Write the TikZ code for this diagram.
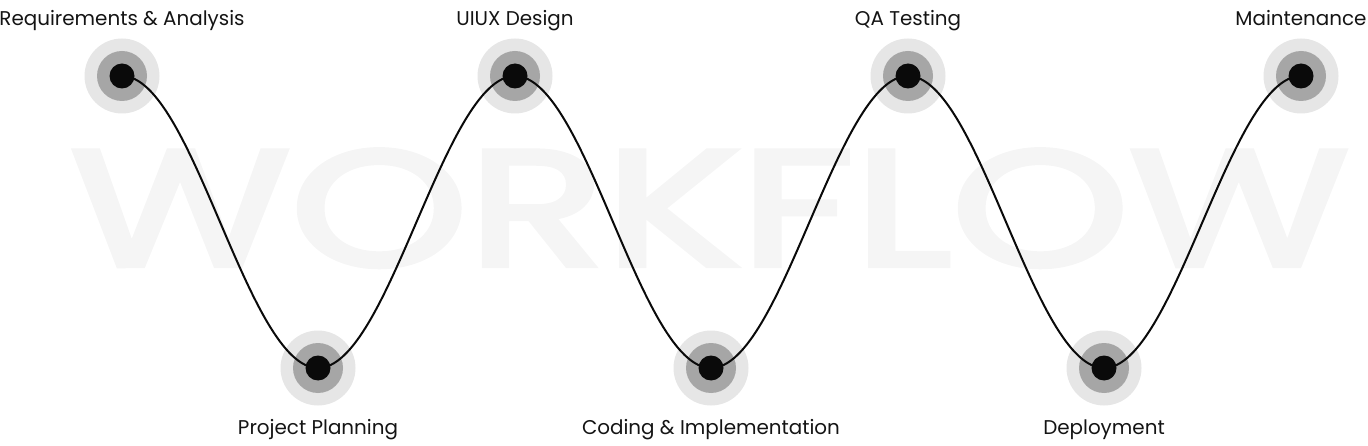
\documentclass[tikz,border=0pt]{standalone}
\usepackage{fontspec}
\setmainfont{Poppins}
\newfontfamily\wmfont{Poppins}[FakeBold=3]
\definecolor{wmgray}{HTML}{F5F5F5}
\definecolor{ringout}{HTML}{E6E6E6}
\definecolor{ringmid}{HTML}{A6A6A6}
\definecolor{dotblack}{HTML}{0A0A0A}
\definecolor{lbltext}{HTML}{141414}
\pgfdeclarelayer{bg}
\pgfsetlayers{bg,main}
\tikzset{
  dotnode/.style={circle, fill=dotblack, inner sep=0, minimum size=25pt},
  outerring/.style={circle, fill=ringout, inner sep=0, minimum size=75pt},
  midring/.style={circle, fill=ringmid, inner sep=0, minimum size=50pt},
  lbl/.style={anchor=base, inner sep=0, text=lbltext, font=\fontsize{19.9pt}{23pt}\selectfont},
  wave/.style={draw=dotblack, line width=2pt},
}
\begin{document}
\begin{tikzpicture}[x=1pt,y=-1pt]
\useasboundingbox (0,0) rectangle (1368,446);
% step dots
\node[dotnode] (n1) at (122,76) {};
\node[dotnode] (n2) at (318,368) {};
\node[dotnode] (n3) at (515,76) {};
\node[dotnode] (n4) at (711,368) {};
\node[dotnode] (n5) at (908,76) {};
\node[dotnode] (n6) at (1104,368) {};
\node[dotnode] (n7) at (1301,76) {};
\begin{pgfonlayer}{bg}
\node[inner sep=0, anchor=south west, text=wmgray] (wm) at (70,267) {\resizebox{1278pt}{116pt}{\wmfont WORKFLOW}};
\foreach \i in {1,...,7}{
  \node[outerring] (o\i) at (n\i) {};
  \node[midring] (m\i) at (n\i) {};
}
\foreach \a/\b in {1/2,2/3,3/4,4/5,5/6,6/7}{
  \draw[wave] (n\a.center) .. controls +(71,0) and +(-71,0) .. (n\b.center);
}
\end{pgfonlayer}
% labels
\node[lbl] (l1) at (122,26) {Requirements \& Analysis};
\node[lbl] (l3) at (515,26) {UIUX Design};
\node[lbl] (l5) at (908,26) {QA Testing};
\node[lbl] (l7) at (1301,26) {Maintenance};
\node[lbl] (l2) at (318,434.3) {Project Planning};
\node[lbl] (l4) at (711,434.3) {Coding \& Implementation};
\node[lbl] (l6) at (1104,434.3) {Deployment};
\end{tikzpicture}
\end{document}
